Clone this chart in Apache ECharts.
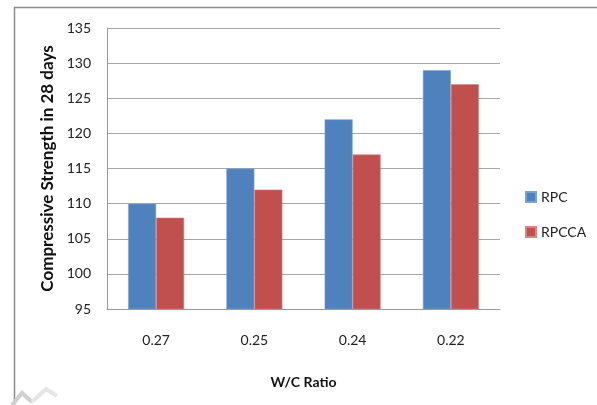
<!DOCTYPE html>
<html>
<head>
<meta charset="utf-8">
<script src="https://cdn.jsdelivr.net/npm/echarts@6/dist/echarts.min.js"></script>
<style>
  html, body { margin: 0; padding: 0; background: #fff; }
  #chart { width: 597px; height: 405px; }
</style>
</head>
<body>
<div id="chart"></div>
<script>
// Water/cement ratios along the x axis
const ratios = ['0.27', '0.25', '0.24', '0.22'];
// 28-day compressive strength for each mix
const rpc = [110, 115, 122, 129];
const rpcca = [108, 112, 117, 127];
const seriesNames = ['RPC', 'RPCCA'];

const FONT = 'Lato, "Open Sans", sans-serif';
const chart = echarts.init(document.getElementById('chart'), null, { renderer: 'canvas' });

chart.setOption({
  backgroundColor: '#ffffff',
  animation: false,
  textStyle: { fontFamily: FONT },
  grid: { left: 107, top: 28, width: 393, height: 281, containLabel: false },
  legend: {
    data: seriesNames,
    orient: 'vertical',
    left: 520,
    top: 185,
    itemWidth: 10,
    itemHeight: 10,
    itemGap: 21,
    icon: 'rect',
    textStyle: { fontFamily: FONT, fontSize: 14, color: '#222' }
  },
  xAxis: {
    type: 'category',
    data: ratios,
    name: 'W/C Ratio',
    nameLocation: 'middle',
    nameGap: 66,
    nameTextStyle: { fontFamily: FONT, fontSize: 14, fontWeight: 'bold', color: '#111' },
    axisLine: { show: true, lineStyle: { color: '#999', width: 1 } },
    axisTick: { show: false },
    axisLabel: { fontFamily: FONT, fontSize: 14, color: '#222', margin: 24 }
  },
  yAxis: {
    type: 'value',
    min: 95,
    max: 135,
    interval: 5,
    name: 'Compressive Strength in 28 days',
    nameLocation: 'middle',
    nameGap: 51,
    nameTextStyle: { fontFamily: FONT, fontSize: 17, fontWeight: 'bold', color: '#111' },
    axisLine: { show: true, lineStyle: { color: '#999', width: 1 } },
    axisTick: { show: false },
    splitLine: { lineStyle: { color: '#a6a6a6', width: 1 } },
    axisLabel: { fontFamily: FONT, fontSize: 14, color: '#222', margin: 16 }
  },
  series: [
    {
      name: seriesNames[0],
      type: 'bar',
      data: rpc,
      barGap: '0%',
      barCategoryGap: '43%',
      itemStyle: { color: '#4f81bd', borderColor: '#7ea3d3', borderWidth: 0.6 }
    },
    {
      name: seriesNames[1],
      type: 'bar',
      data: rpcca,
      itemStyle: { color: '#c0504d', borderColor: '#d98482', borderWidth: 0.6 }
    }
  ],
  graphic: [
    // frame around the chart
    { type: 'line', shape: { x1: 14, y1: 7.5, x2: 597, y2: 7.5 }, style: { stroke: '#8c8c8c', lineWidth: 1.5 } },
    { type: 'line', shape: { x1: 14.5, y1: 7, x2: 14.5, y2: 405 }, style: { stroke: '#8c8c8c', lineWidth: 1.5 } },
    // faint mark in the lower-left corner
    { type: 'polyline', shape: { points: [[12, 405], [22, 393], [32, 402]] }, style: { stroke: '#d0d0d0', lineWidth: 4, fill: null } },
    { type: 'polyline', shape: { points: [[32, 402], [46, 389], [57, 396]] }, style: { stroke: '#e6e6e6', lineWidth: 4, fill: null } }
  ]
});
</script>
</body>
</html>
